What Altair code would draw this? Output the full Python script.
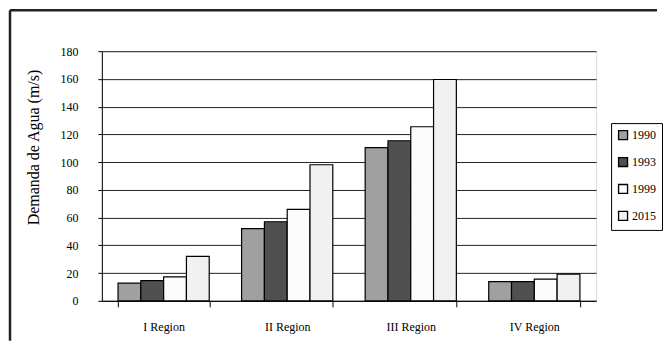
import altair as alt
import pandas as pd

regions = ["I Region", "II Region", "III Region", "IV Region"]
years = ["1990", "1993", "1999", "2015"]
v1990 = [12.7, 52.0, 110.4, 13.9]
v1993 = [14.6, 57.0, 115.4, 13.9]
v1999 = [17.3, 66.0, 125.5, 15.6]
v2015 = [32.1, 98.1, 159.6, 19.3]
colors = ["#a0a0a0", "#505050", "#fcfcfc", "#f1f1f1"]

rows = []
for yr, vals in zip(years, [v1990, v1993, v1999, v2015]):
    for r, v in zip(regions, vals):
        rows.append({"region": r, "year": yr, "value": v})
df = pd.DataFrame(rows)

W, H = 495, 250
FONT = "Liberation Serif"

bars = alt.Chart(df).mark_bar(stroke="black", strokeWidth=1.2).encode(
    x=alt.X("region:N", sort=regions, title=None,
            scale=alt.Scale(paddingInner=0.262, paddingOuter=0.131),
            axis=alt.Axis(labelAngle=0, tickBand="extent", tickSize=6,
                          labelPadding=15, grid=False, domainColor="black",
                          tickColor="black", labelColor="black",
                          labelFont=FONT, labelFontSize=12)),
    xOffset=alt.XOffset("year:N", sort=years),
    y=alt.Y("value:Q", title="Demanda de Agua (m/s)",
            scale=alt.Scale(domain=[0, 180], nice=False),
            axis=alt.Axis(values=list(range(0, 181, 20)), tickSize=4,
                          labelPadding=20, titlePadding=18,
                          titleY=96, titleAlign="center",
                          domainColor="black", tickColor="black",
                          labelColor="black", labelFont=FONT, labelFontSize=12,
                          titleFont=FONT, titleFontSize=16, titleFontWeight="normal",
                          titleColor="black", gridColor="#222222", gridWidth=1)),
    color=alt.Color("year:N", sort=years,
                    scale=alt.Scale(domain=years, range=colors),
                    legend=alt.Legend(orient="none", legendX=510, legendY=72,
                                      title=None, strokeColor="black",
                                      fillColor="white", padding=6,
                                      symbolType="square", symbolSize=81,
                                      symbolStrokeColor="black",
                                      symbolStrokeWidth=1.3,
                                      labelFont=FONT, labelFontSize=12,
                                      labelColor="black", labelOffset=3,
                                      rowPadding=11)),
)

frame_df = pd.DataFrame({"a": [0]})
top_rule = alt.Chart(frame_df).mark_rule(color="#222222", strokeWidth=2.5).encode(
    x=alt.value(-92), x2=alt.value(556), y=alt.value(-41))
left_rule = alt.Chart(frame_df).mark_rule(color="#222222", strokeWidth=2.5).encode(
    x=alt.value(-92), y=alt.value(-41), y2=alt.value(H + 40))

chart = alt.layer(bars, top_rule, left_rule).properties(
    width=W, height=H, padding=0
).configure_view(stroke="black", strokeWidth=1.2).configure(background="white")

chart.save("out.html", embed_options={"renderer": "svg", "actions": False})
